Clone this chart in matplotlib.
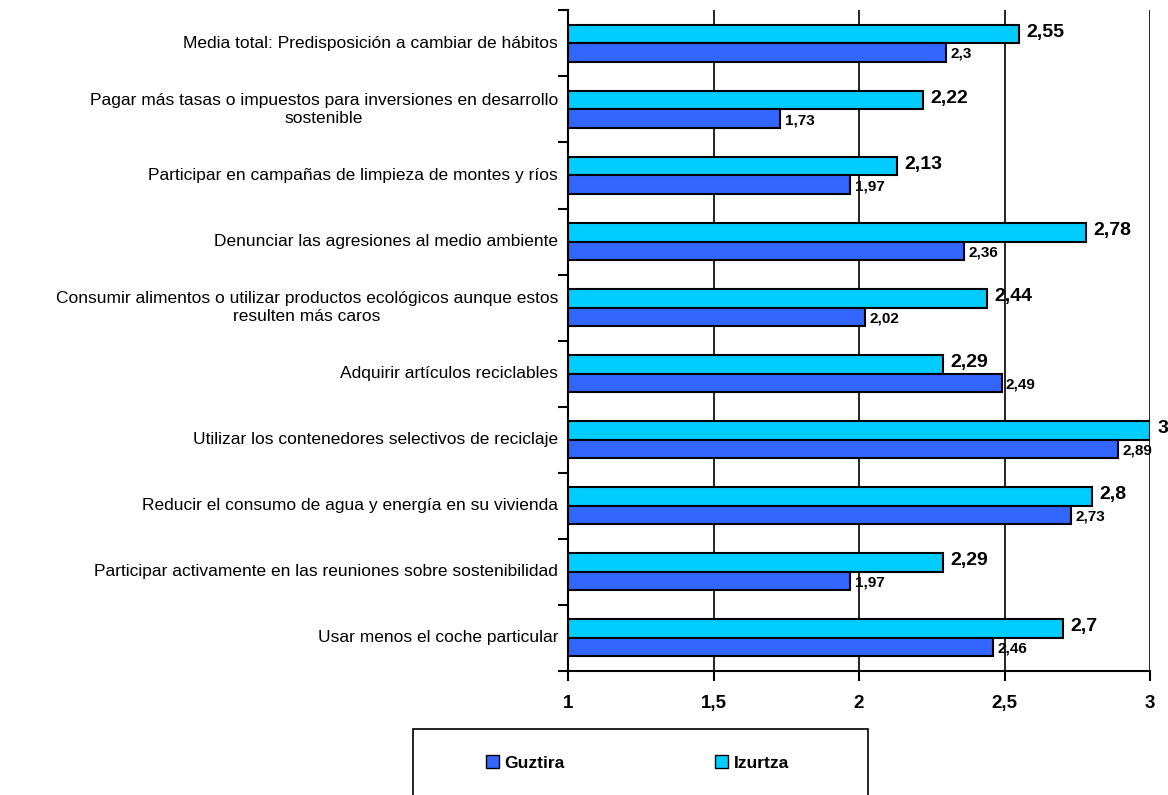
import matplotlib.pyplot as plt
import numpy as np
from matplotlib.patches import Rectangle
from matplotlib.transforms import offset_copy

plt.rcParams["font.family"] = ["Liberation Sans", "DejaVu Sans"]

categories = [
    "Media total: Predisposición a cambiar de hábitos",
    "Pagar más tasas o impuestos para inversiones en desarrollo\nsostenible",
    "Participar en campañas de limpieza de montes y ríos",
    "Denunciar las agresiones al medio ambiente",
    "Consumir alimentos o utilizar productos ecológicos aunque estos\nresulten más caros",
    "Adquirir artículos reciclables",
    "Utilizar los contenedores selectivos de reciclaje",
    "Reducir el consumo de agua y energía en su vivienda",
    "Participar activamente en las reuniones sobre sostenibilidad",
    "Usar menos el coche particular",
]
izurtza = [2.55, 2.22, 2.13, 2.78, 2.44, 2.29, 3, 2.8, 2.29, 2.7]
guztira = [2.3, 1.73, 1.97, 2.36, 2.02, 2.49, 2.89, 2.73, 1.97, 2.46]
xticks = [1, 1.5, 2, 2.5, 3]


def fmt(v):
    return f"{v:g}".replace(".", ",")


fig = plt.figure(figsize=(11.68, 7.95), dpi=100)
ax = fig.add_axes([0.4863, 0.156, 0.4983, 0.831])

n = len(categories)
y = np.arange(n)[::-1].astype(float)
h = 0.28
ax.barh(y + h / 2, np.array(izurtza) - 1, left=1, height=h, color="#00CCFF",
        edgecolor="black", linewidth=1.5, zorder=3)
ax.barh(y - h / 2, np.array(guztira) - 1, left=1, height=h, color="#3366FF",
        edgecolor="black", linewidth=1.5, zorder=3)

for yi, v in zip(y, izurtza):
    ax.text(v + 0.025, yi + h / 2 + 0.03, fmt(v), fontsize=14, fontweight="bold",
            va="center", ha="left", zorder=4)
for yi, v in zip(y, guztira):
    ax.text(v + 0.015, yi - h / 2 - 0.02, fmt(v), fontsize=11, fontweight="bold",
            va="center", ha="left", zorder=4)

ax.set_xlim(1, 3)
ax.set_ylim(-0.5, n - 0.5)
ax.set_xticks(xticks)
ax.set_xticklabels([])
ax.tick_params(axis="x", length=7, width=1.5, direction="out")
lab_tr = offset_copy(ax.get_xaxis_transform(), fig=fig, y=-37, units="dots")
for t in xticks:
    ax.text(t, 0, fmt(t), transform=lab_tr, ha="center", va="baseline",
            fontsize=13.5, fontweight="bold")

ax.set_yticks(np.arange(-0.5, n, 1.0))
ax.set_yticklabels([])
ax.tick_params(axis="y", length=7, width=1.5, direction="out")
for yi, lab in zip(y, categories):
    ax.text(-0.017, yi, lab, transform=ax.get_yaxis_transform(), ha="right",
            va="center", multialignment="center", fontsize=12.5, linespacing=1.3)

ax.grid(axis="x", color="black", linewidth=1.2, zorder=0)
for s in ["top", "right"]:
    ax.spines[s].set_visible(False)
for s in ["left", "bottom"]:
    ax.spines[s].set_linewidth(1.5)

fig.patches.append(Rectangle((0.354, -0.05), 0.389, 0.133, transform=fig.transFigure,
                             fill=False, edgecolor="black", linewidth=1.2))
h1 = Rectangle((0, 0), 1, 1, facecolor="#3366FF", edgecolor="black")
h2 = Rectangle((0, 0), 1, 1, facecolor="#00CCFF", edgecolor="black")
fig.legend([h1, h2], ["Guztira", "Izurtza"], ncol=2, frameon=False,
           loc="center", bbox_to_anchor=(0.5455, 0.04), columnspacing=8.7,
           handlelength=0.75, handleheight=0.75, handletextpad=0.3,
           prop={"weight": "bold", "size": 12.5})

fig.savefig("out.png", dpi=100)
